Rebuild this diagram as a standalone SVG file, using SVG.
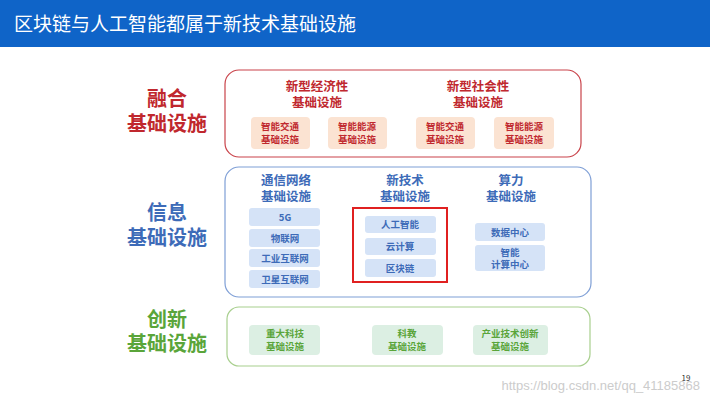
<svg xmlns="http://www.w3.org/2000/svg" width="710" height="400" viewBox="0 0 710 400">
<style>
text{font-family:"Noto Sans CJK SC","Liberation Sans",sans-serif;font-weight:bold;text-anchor:middle}
.r{fill:#c0282e}.b{fill:#3d6bb8}.g{fill:#5aa53a}
.big{font-size:20px}.h{font-size:12.5px}.s{font-size:9.5px}
.rs{fill:#fbe3d2}.bs{fill:#d5e3f7}.gs{fill:#dcefe3}
</style>
<rect width="710" height="400" fill="#fff"/>
<rect x="0" y="0" width="710" height="47" fill="#0f64c8"/>
<text x="14" y="31" style="font-size:19px;fill:#fff;text-anchor:start;font-weight:normal">区块链与人工智能都属于新技术基础设施</text>
<g id="left-labels">
<text class="r big" x="167" y="106">融合</text><text class="r big" x="167" y="131">基础设施</text>
<text class="b big" x="167" y="220">信息</text><text class="b big" x="167" y="245">基础设施</text>
<text class="g big" x="167" y="327">创新</text><text class="g big" x="167" y="351">基础设施</text>
</g>
<g id="fusion">
<rect x="225" y="70" width="356" height="87" rx="14" fill="#fff" stroke="#c9434a" stroke-width="1.2"/>
<text class="r h" x="317" y="91">新型经济性</text><text class="r h" x="317" y="107">基础设施</text>
<text class="r h" x="478" y="91">新型社会性</text><text class="r h" x="478" y="107">基础设施</text>
<g id="f1"><rect class="rs" x="251" y="117" width="59" height="32" rx="4"/><text class="r s" x="280" y="130">智能交通</text><text class="r s" x="280" y="143">基础设施</text></g>
<g id="f2"><rect class="rs" x="328" y="117" width="59" height="32" rx="4"/><text class="r s" x="357" y="130">智能能源</text><text class="r s" x="357" y="143">基础设施</text></g>
<g id="f3"><rect class="rs" x="416" y="117" width="59" height="32" rx="4"/><text class="r s" x="445" y="130">智能交通</text><text class="r s" x="445" y="143">基础设施</text></g>
<g id="f4"><rect class="rs" x="494" y="117" width="60" height="32" rx="4"/><text class="r s" x="524" y="130">智能能源</text><text class="r s" x="524" y="143">基础设施</text></g>
</g>
<g id="info">
<rect x="225" y="167" width="366" height="130" rx="14" fill="#fff" stroke="#7f9fd6" stroke-width="1.2"/>
<text class="b h" x="286" y="185">通信网络</text><text class="b h" x="286" y="201">基础设施</text>
<text class="b h" x="405" y="185">新技术</text><text class="b h" x="405" y="201">基础设施</text>
<text class="b h" x="511" y="185">算力</text><text class="b h" x="511" y="201">基础设施</text>
<g id="i1"><rect class="bs" x="249" y="208" width="71" height="18" rx="3"/><text class="b s" x="285" y="221">5G</text></g>
<g id="i2"><rect class="bs" x="249" y="229" width="71" height="18" rx="3"/><text class="b s" x="285" y="242">物联网</text></g>
<g id="i3"><rect class="bs" x="249" y="249" width="71" height="18" rx="3"/><text class="b s" x="285" y="262">工业互联网</text></g>
<g id="i4"><rect class="bs" x="249" y="270" width="71" height="18" rx="3"/><text class="b s" x="285" y="283">卫星互联网</text></g>
<rect x="353" y="208" width="94" height="74" fill="none" stroke="#e02020" stroke-width="2"/>
<g id="i5"><rect class="bs" x="365" y="216" width="71" height="17" rx="3"/><text class="b s" x="400" y="228">人工智能</text></g>
<g id="i6"><rect class="bs" x="365" y="238" width="71" height="17" rx="3"/><text class="b s" x="400" y="250">云计算</text></g>
<g id="i7"><rect class="bs" x="365" y="259" width="71" height="18" rx="3"/><text class="b s" x="400" y="272">区块链</text></g>
<g id="i8"><rect class="bs" x="475" y="223" width="70" height="18" rx="3"/><text class="b s" x="510" y="236">数据中心</text></g>
<g id="i9"><rect class="bs" x="475" y="245" width="70" height="26" rx="3"/><text class="b s" x="510" y="256">智能</text><text class="b s" x="510" y="268">计算中心</text></g>
</g>
<g id="innov">
<rect x="227" y="307" width="363" height="59" rx="12" fill="#fff" stroke="#a8cf8e" stroke-width="1.2"/>
<g id="g1"><rect class="gs" x="249" y="325" width="71" height="30" rx="4"/><text class="g s" x="285" y="337">重大科技</text><text class="g s" x="285" y="350">基础设施</text></g>
<g id="g2"><rect class="gs" x="372" y="325" width="71" height="30" rx="4"/><text class="g s" x="407" y="337">科教</text><text class="g s" x="407" y="350">基础设施</text></g>
<g id="g3"><rect class="gs" x="473" y="325" width="75" height="30" rx="4"/><text class="g s" x="510" y="337">产业技术创新</text><text class="g s" x="510" y="350">基础设施</text></g>
</g>
<g id="connectors"/>
<text x="686" y="381" style="font-size:8px;fill:#333;font-weight:normal">19</text>
<text x="700" y="390" style="font-size:13px;fill:#ccc;font-weight:normal;text-anchor:end;font-family:'Liberation Sans',sans-serif">https://blog.csdn.net/qq_41185868</text>
</svg>
